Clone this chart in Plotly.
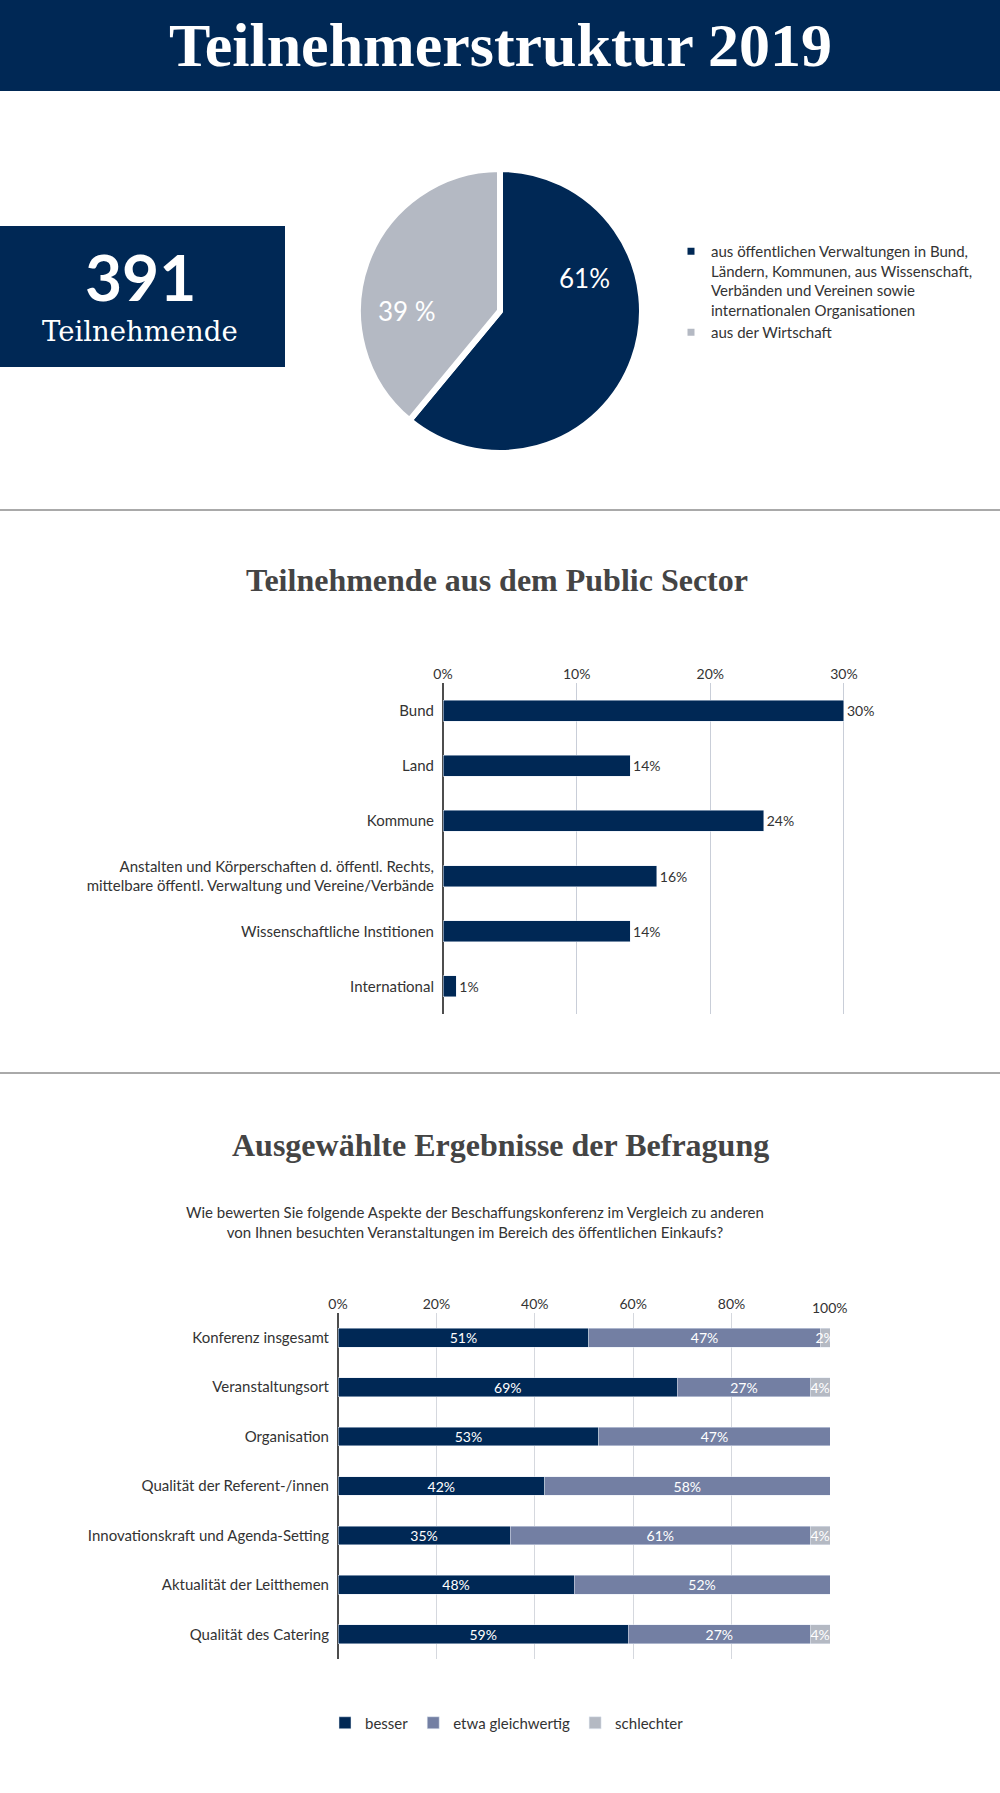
import plotly.graph_objects as go

W, H = 1000, 1793
NAVY = "#002855"
MID = "#737fa3"
LIGHT = "#b4b9c3"
TXT = "#333333"
TITLE_C = "#444444"
SANS = "Lato"
SERIF = "Liberation Serif"
SLAB = "DejaVu Serif"

# ---- data ----
pie_labels = [
    "aus öffentlichen Verwaltungen in Bund,<br>Ländern, Kommunen, aus Wissenschaft,<br>Verbänden und Vereinen sowie<br>internationalen Organisationen",
    "aus der Wirtschaft",
]
pie_values = [61, 39]
pie_texts = ["61%", "39 %"]
total_participants = "391"

sector_cats = [
    "Bund",
    "Land",
    "Kommune",
    "Anstalten und Körperschaften d. öffentl. Rechts,<br>mittelbare öffentl. Verwaltung und Vereine/Verbände",
    "Wissenschaftliche Institionen",
    "International",
]
sector_values = [30, 14, 24, 16, 14, 1]
sector_texts = ["30%", "14%", "24%", "16%", "14%", "1%"]

survey_cats = [
    "Konferenz insgesamt",
    "Veranstaltungsort",
    "Organisation",
    "Qualität der Referent-/innen",
    "Innovationskraft und Agenda-Setting",
    "Aktualität der Leitthemen",
    "Qualität des Catering",
]
besser = [51, 69, 53, 42, 35, 48, 59]
gleich = [47, 27, 47, 58, 61, 52, 37]
schlechter = [2, 4, 0, 0, 4, 0, 4]
besser_text = ["51%", "69%", "53%", "42%", "35%", "48%", "59%"]
gleich_text = ["47%", "27%", "47%", "58%", "61%", "52%", "27%"]
schlechter_text = ["2%", "4%", "", "", "4%", "", "4%"]

x1_ticks = [0, 10, 20, 30]
x1_ticktext = ["0%", "10%", "20%", "30%"]
x2_ticks = [0, 20, 40, 60, 80, 100]
x2_ticktext = ["0%", "20%", "40%", "60%", "80%", ""]


def py(p):
    return 1 - p / H


fig = go.Figure()

# pie
fig.add_trace(go.Pie(
    labels=pie_labels, values=pie_values, sort=False, direction="clockwise", rotation=0,
    marker=dict(colors=[NAVY, LIGHT], line=dict(color="white", width=6)),
    textinfo="none", hoverinfo="label+percent",
    domain=dict(x=[0.358, 0.642], y=[py(453), py(169)]),
    legend="legend", showlegend=True,
))

# bar chart 1
fig.add_trace(go.Bar(
    y=sector_cats, x=sector_values, orientation="h", marker_color=NAVY,
    text=sector_texts, textposition="outside", textfont=dict(family=SANS, size=14, color=TXT),
    cliponaxis=False, showlegend=False, xaxis="x", yaxis="y",
))

# bar chart 2
for name, vals, txt, col in [("besser", besser, besser_text, NAVY),
                             ("etwa gleichwertig", gleich, gleich_text, MID),
                             ("schlechter", schlechter, schlechter_text, LIGHT)]:
    fig.add_trace(go.Bar(
        y=survey_cats, x=vals, orientation="h", name=name, marker_color=col,
        text=txt, textposition="inside", insidetextanchor="middle", textangle=0,
        constraintext="none", cliponaxis=False,
        textfont=dict(family=SANS, size=14, color="white"),
        xaxis="x2", yaxis="y2", legend="legend2",
    ))

shapes = [
    dict(type="rect", xref="paper", yref="paper", x0=0, x1=1, y0=py(91), y1=1,
         fillcolor=NAVY, line_width=0, layer="below"),
    dict(type="rect", xref="paper", yref="paper", x0=0, x1=0.285, y0=py(367), y1=py(226),
         fillcolor=NAVY, line_width=0, layer="below"),
    dict(type="line", xref="paper", yref="paper", x0=0, x1=1, y0=py(510), y1=py(510),
         line=dict(color="#555555", width=1)),
    dict(type="line", xref="paper", yref="paper", x0=0, x1=1, y0=py(1073), y1=py(1073),
         line=dict(color="#555555", width=1)),
]


def ann(text, x, y, size, color, family=SANS, xref="paper", weight="normal"):
    return dict(text=text, x=x, y=y, xref=xref, yref="paper", xanchor="center", yanchor="middle",
                showarrow=False, font=dict(family=family, size=size, color=color, weight=weight))


annotations = [
    ann("Teilnehmerstruktur 2019", 0.5, py(45), 62, "white", SERIF, weight="bold"),
    ann(total_participants, 0.14, py(276), 64, "white", weight="bold"),
    ann("Teilnehmende", 0.14, py(331), 27.5, "white", SLAB),
    ann(pie_texts[0], 0.584, py(278), 26, "white"),
    ann(pie_texts[1], 0.407, py(311), 26, "white"),
    ann("Teilnehmende aus dem Public Sector", 0.497, py(580), 32, TITLE_C, SERIF, weight="bold"),
    ann("Ausgewählte Ergebnisse der Befragung", 0.5, py(1145), 32, TITLE_C, SERIF, weight="bold"),
    ann("Wie bewerten Sie folgende Aspekte der Beschaffungskonferenz im Vergleich zu anderen<br>von Ihnen besuchten Veranstaltungen im Bereich des öffentlichen Einkaufs?",
        0.475, py(1222), 15, TXT),
    ann("100%", 100, py(1307), 14, TXT, xref="x2"),
]

axis_common = dict(automargin=False, fixedrange=True)

fig.update_layout(
    width=W, height=H, margin=dict(l=0, r=0, t=0, b=0, pad=0, autoexpand=False),
    paper_bgcolor="white", plot_bgcolor="white",
    font=dict(family=SANS, size=14, color=TXT),
    barmode="stack", bargap=0.62,
    shapes=shapes, annotations=annotations,
    xaxis=dict(domain=[0.443, 0.884], range=[0, 33], side="top", tickvals=x1_ticks, ticktext=x1_ticktext,
               showgrid=True, gridcolor="#c9ced8", gridwidth=1, zeroline=True, zerolinecolor="#4d4d4d",
               zerolinewidth=1.5, tickfont=dict(family=SANS, size=14, color=TXT), anchor="y", **axis_common),
    yaxis=dict(domain=[py(1014), py(683)], autorange="reversed", tickfont=dict(family=SANS, size=15, color=TXT),
               ticklabelstandoff=8, showgrid=False, anchor="x", **axis_common),
    xaxis2=dict(domain=[0.338, 0.830], range=[0, 100], side="top", tickvals=x2_ticks, ticktext=x2_ticktext,
                showgrid=True, gridcolor="#d5d8de", gridwidth=1, zeroline=True, zerolinecolor="#4d4d4d",
                zerolinewidth=1.5, tickfont=dict(family=SANS, size=14, color=TXT), anchor="y2", **axis_common),
    yaxis2=dict(domain=[py(1659), py(1313)], autorange="reversed", tickfont=dict(family=SANS, size=15, color=TXT),
                ticklabelstandoff=8, showgrid=False, anchor="x2", **axis_common),
    legend=dict(x=0.671, y=py(235), xanchor="left", yanchor="top", valign="top", traceorder="normal",
                font=dict(family=SANS, size=15, color=TXT), bgcolor="rgba(0,0,0,0)"),
    legend2=dict(orientation="h", x=0.325, y=py(1723), xanchor="left", yanchor="middle",
                 font=dict(family=SANS, size=15, color=TXT), bgcolor="rgba(0,0,0,0)", traceorder="normal"),
)

post = (
    "document.documentElement.style.margin='0';"
    "document.documentElement.style.padding='0';"
    "document.documentElement.style.overflow='hidden';"
    "document.body.style.margin='0';"
    "document.body.style.padding='0';"
    "document.body.style.overflow='hidden';"
)

fig.write_html("out.html", config={"displayModeBar": False}, post_script=post)
